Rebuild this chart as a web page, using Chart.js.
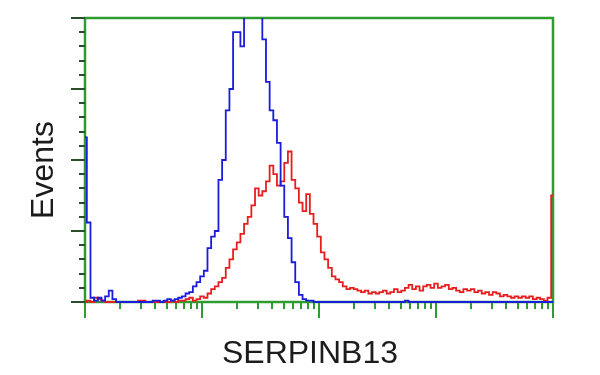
<!DOCTYPE html>
<html><head><meta charset="utf-8">
<script src="https://cdn.jsdelivr.net/npm/chart.js@4/dist/chart.umd.min.js"></script>
<style>html,body{margin:0;padding:0;background:#fff}#wrap{width:600px;height:375px}</style>
</head><body><div id="wrap"><canvas id="c" width="600" height="375"></canvas></div>
<script>
// 129 log-spaced channels, 32 per decade, spanning 10^0 .. 10^4
const channelsPerDecade = 32;
const blueCounts = [
116,56,3,1,3,1,4,8,2,0,
0,0,0,0,0,0,0,0,0,1,
1,0,1,2,1,2,3,4,6,7,
11,14,18,22,38,46,50,86,100,135,
150,190,190,180,210,230,240,235,210,185,
155,135,128,112,82,60,45,28,14,5,
2,1,1,0,0,0,0,0,0,0,
0,0,0,0,0,0,0,0,0,0,
0,0,0,0,0,0,0,0,1,0,
0,0,0,0,0,0,0,0,0,0,
0,0,0,0,0,0,0,0,0,0,
0,0,0,0,0,0,0,0,0,0,
0,0,0,0,0,0,0,0,0
];
const redCounts = [
0,1,0,3,2,1,0,0,0,0,
0,0,0,0,0,1,1,0,0,0,
0,0,0,0,1,0,1,1,2,3,
1,2,4,3,6,9,11,14,17,24,
30,37,42,48,55,60,68,80,75,78,
85,96,90,82,85,98,106,86,80,70,
64,76,62,55,46,35,30,24,18,16,
14,11,9,10,9,8,7,8,6,7,
6,7,8,6,7,9,7,8,10,12,
9,11,8,11,12,10,13,10,11,12,
9,10,8,7,9,8,9,7,8,6,
7,5,7,6,4,5,4,3,4,3,
4,3,4,2,3,2,1,3,75
];
const xTickValues = [1,2,3,4,5,6,7,8,9,10,20,30,40,50,60,70,80,90,100,200,300,400,500,600,700,800,900,1000,2000,3000,4000,5000,6000,7000,8000,9000,10000];
const yTickValues = [0,10,20,30,40,50,60,70,80,90,100,110,120,130,140,150,160,170,180,190,200];
const yMajorStep = 50;
const xTitle = 'SERPINB13';
const yTitle = 'Events';

const channelValues = blueCounts.map((_, i) => Math.pow(10, i / channelsPerDecade));
const toPoints = arr => arr.map((v, i) => ({x: channelValues[i], y: v}));

const frameGreen = '#2e9c2e';
const decorPlugin = {
  id: 'decor',
  beforeDatasetsDraw(chart) {
    const {ctx, chartArea: a, scales: {x, y}} = chart;
    ctx.save();
    ctx.strokeStyle = frameGreen; ctx.lineWidth = 2.5;
    ctx.strokeRect(a.left, a.top, a.right - a.left, a.bottom - a.top);
    ctx.lineWidth = 2;
    ctx.beginPath();
    xTickValues.forEach(v => {
      const px = Math.round(x.getPixelForValue(v));
      const lg = Math.log10(v);
      const major = Math.abs(lg - Math.round(lg)) < 1e-9;
      ctx.moveTo(px, a.bottom); ctx.lineTo(px, a.bottom + (major ? 16 : 7));
    });
    ctx.stroke();
    ctx.strokeStyle = '#2a4d2a';
    ctx.beginPath();
    yTickValues.forEach(v => {
      const py = Math.round(y.getPixelForValue(v));
      const major = v % yMajorStep === 0;
      ctx.moveTo(a.left, py); ctx.lineTo(a.left - (major ? 14 : 6), py);
    });
    ctx.stroke();
    ctx.restore();
  },
  afterDraw(chart) {
    const {ctx, chartArea: a} = chart;
    ctx.save();
    ctx.fillStyle = '#1c1c1c';
    ctx.font = '32px "Liberation Sans", Arial, sans-serif';
    ctx.textAlign = 'center';
    ctx.textBaseline = 'alphabetic';
    ctx.fillText(xTitle, (a.left + a.right) / 2 - 9, a.bottom + 61);
    ctx.translate(a.left - 32, (a.top + a.bottom) / 2 + 10);
    ctx.rotate(-Math.PI / 2);
    ctx.fillText(yTitle, 0, 0);
    ctx.restore();
  }
};

new Chart(document.getElementById('c'), {
  type: 'line',
  data: {
    datasets: [
      {label: 'control', data: toPoints(blueCounts), borderColor: '#1b1bdc', borderWidth: 1.8,
       pointRadius: 0, stepped: 'middle', fill: false, clip: {left: 3, right: 3, top: 0, bottom: 3}},
      {label: 'SERPINB13', data: toPoints(redCounts), borderColor: '#e81e1e', borderWidth: 1.8,
       pointRadius: 0, stepped: 'middle', fill: false, clip: {left: 3, right: 3, top: 0, bottom: 3}}
    ]
  },
  options: {
    responsive: false,
    animation: false,
    devicePixelRatio: 1,
    layout: {padding: {left: 85, top: 18, right: 47, bottom: 73}},
    plugins: {legend: {display: false}, title: {display: false}, tooltip: {enabled: false}},
    scales: {
      x: {type: 'logarithmic', min: 1, max: 10000, display: false},
      y: {type: 'linear', min: 0, max: 200, display: false}
    }
  },
  plugins: [decorPlugin]
});
</script>
</body></html>
